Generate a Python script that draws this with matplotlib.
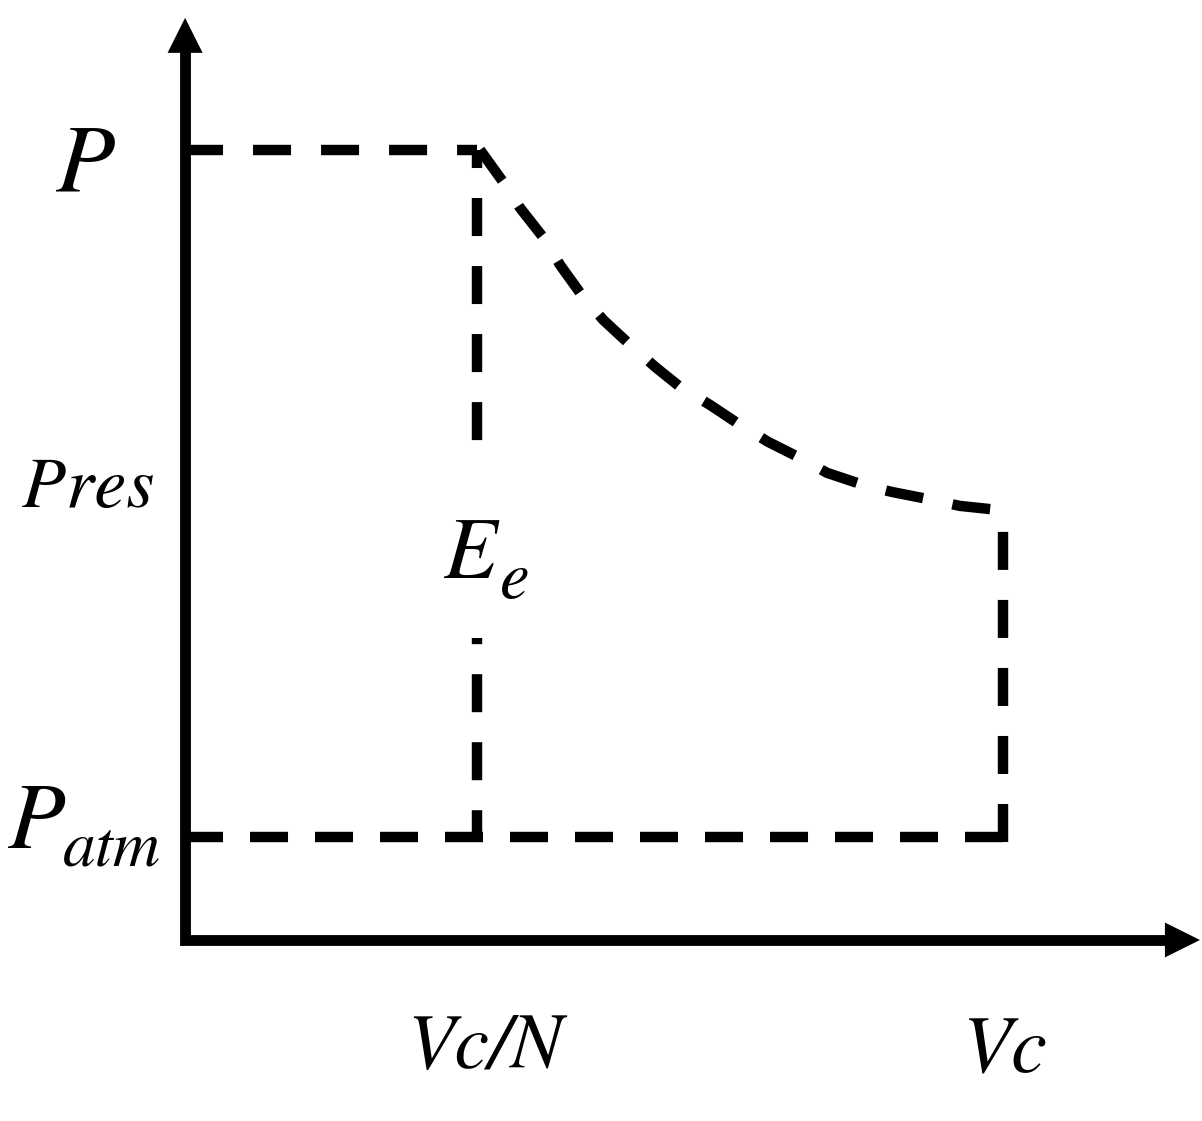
import numpy as np
import matplotlib.pyplot as plt
from matplotlib.patches import Rectangle, Polygon

# diagram data (V in units of Vc/N, p in units of Patm)
v_cn = 1.0          # Vc/N
v_c = 2.8           # Vc
p_top = 7.7         # P
p_atm = 1.0         # Patm
p_vc = 4.09         # top of the vertical at Vc

# expansion curve
curve_v = [1.010, 1.089, 1.147, 1.233, 1.284, 1.353, 1.432, 1.517, 1.610, 1.695,
           1.798, 1.901, 1.997, 2.106, 2.199, 2.322, 2.421, 2.558, 2.654, 2.784]
curve_p = [7.700, 7.388, 7.135, 6.823, 6.579, 6.306, 6.043, 5.819, 5.585, 5.390,
           5.214, 5.019, 4.854, 4.698, 4.552, 4.435, 4.366, 4.289, 4.230, 4.191]

x_tip, x_base = 3.476, 3.356   # V arrow
y_tip, y_base = 8.986, 8.645   # p arrow

fig = plt.figure(figsize=(12.02, 11.21), dpi=100)
ax = fig.add_axes([0, 0, 1, 1])
ax.set_xlim(-0.634, 3.483)
ax.set_ylim(-1.764, 9.16)
ax.axis('off')

lw = 7.5
on, off = 3.65, 2.88
dash = dict(color='k', linewidth=lw, dash_capstyle='butt')

# axes with arrows
ax.plot([0, 0, x_base], [y_base, 0, 0], color='k', linewidth=7.8,
        solid_joinstyle='miter', solid_capstyle='projecting')
ax.add_patch(Polygon([[-0.06, y_base], [0.06, y_base], [0, y_tip]], closed=True,
                     color='k', linewidth=0))
ax.add_patch(Polygon([[x_base, 0.17], [x_base, -0.17], [x_tip, 0]], closed=True,
                     color='k', linewidth=0))

# dashed cycle
ax.plot([0, v_cn], [p_top, p_top], linestyle=(0, (on, off)), **dash)
ax.plot(curve_v, curve_p, linestyle=(0, (on, off)), **dash)
ax.plot([v_cn, v_cn], [p_top, p_atm], linestyle=(1.92, (on, off)), **dash)
ax.plot([v_c, v_c], [p_atm - 0.05, p_vc], linestyle=(0, (on, off)), **dash)
ax.plot([0, v_c + 0.015], [p_atm, p_atm], linestyle=(0, (on, 2.59)), **dash)

# white mask behind the E_e label
ax.add_patch(Rectangle((v_cn - 0.08, 2.94), 0.16, 1.91, facecolor='white',
                       edgecolor='none', zorder=3))

tf = dict(family='STIXGeneral', style='italic', color='k', zorder=4, va='baseline')
ax.text(-0.342, 7.28, 'P', fontsize=70, ha='center', **tf)
ax.text(-0.558, 4.22, 'Pres', fontsize=52, ha='left', **tf)
ax.text(-0.606, 0.897, 'P', fontsize=68, ha='left', **tf)
ax.text(-0.418, 0.73, 'atm', fontsize=47, ha='left', **tf)
ax.text(0.884, 3.53, 'E', fontsize=63, ha='left', **tf)
ax.text(1.079, 3.33, 'e', fontsize=48, ha='left', **tf)
ax.text(1.027, -1.248, 'Vc/N', fontsize=56, ha='center', **tf)
ax.text(2.808, -1.296, 'Vc', fontsize=58, ha='center', **tf)

fig.savefig('out.png', dpi=100)
